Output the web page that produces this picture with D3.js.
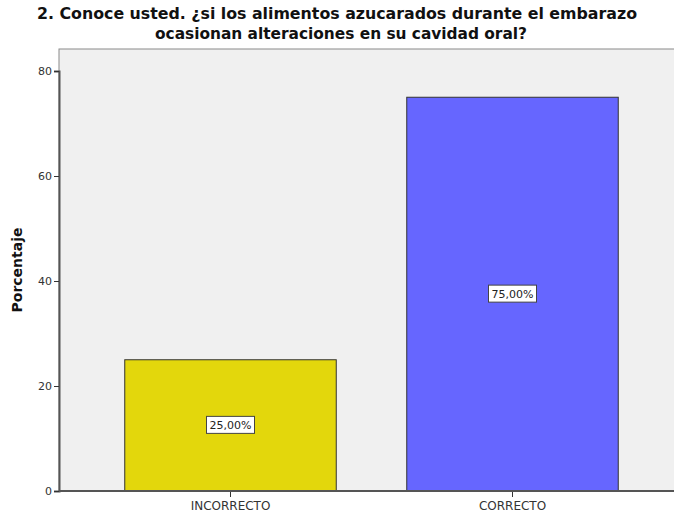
<!DOCTYPE html>
<html>
<head>
<meta charset="utf-8">
<script src="https://cdn.jsdelivr.net/npm/d3@7"></script>
<style>
  body { margin: 0; background: #fff; }
  svg { display: block; }
  .tick text { font-family: "DejaVu Sans", sans-serif; font-size: 11px; fill: #333; }
  .xaxis .tick text { font-size: 12px; }
</style>
</head>
<body>
<div id="chart"></div>
<script>
// data
var categories = ["INCORRECTO", "CORRECTO"];
var values = [25, 75];
var barColors = ["#e3d70c", "#6666ff"];
var yTicks = [0, 20, 40, 60, 80];
var titleLines = ["2. Conoce usted. ¿si los alimentos azucarados durante el embarazo",
                  "ocasionan alteraciones en su cavidad oral?"];

var width = 674, height = 514;
var plot = {left: 59, right: 674, top: 49, bottom: 491};

var svg = d3.select("#chart").append("svg").attr("width", width).attr("height", height);

// plot background
svg.append("rect")
  .attr("x", plot.left).attr("y", plot.top)
  .attr("width", plot.right - plot.left + 2).attr("height", plot.bottom - plot.top)
  .attr("fill", "#f0f0f0").attr("stroke", "#8a8a8a").attr("stroke-width", 1);

var x = d3.scaleBand().domain(categories).range([89.5, 653.5]).paddingInner(0.25).paddingOuter(0.125);
var y = d3.scaleLinear().domain([0, 80]).range([plot.bottom, 71]);

// bars
svg.selectAll("rect.bar").data(categories).enter().append("rect")
  .attr("class", "bar")
  .attr("x", function(d){ return x(d); })
  .attr("y", function(d, i){ return y(values[i]); })
  .attr("width", x.bandwidth())
  .attr("height", function(d, i){ return y(0) - y(values[i]); })
  .attr("fill", function(d, i){ return barColors[i]; })
  .attr("stroke", "#333").attr("stroke-width", 1);

// value labels in boxes
var labels = svg.selectAll("g.vlabel").data(categories).enter().append("g")
  .attr("class", "vlabel")
  .attr("transform", function(d, i){
    return "translate(" + (x(d) + x.bandwidth() / 2) + "," + ((y(values[i]) + y(0)) / 2) + ")";
  });
labels.append("rect")
  .attr("x", -24).attr("y", -9).attr("width", 48).attr("height", 17)
  .attr("fill", "#fff").attr("stroke", "#444").attr("stroke-width", 1);
labels.append("text")
  .attr("text-anchor", "middle").attr("y", 4)
  .style("font-family", "DejaVu Sans, sans-serif").style("font-size", "11px").style("fill", "#222")
  .text(function(d, i){ return values[i].toFixed(2).replace(".", ",") + "%"; });

// axes
var yAxis = d3.axisLeft(y).tickValues(yTicks).tickSize(5).tickPadding(2);
var gy = svg.append("g").attr("transform", "translate(" + plot.left + ",0)").call(yAxis);
gy.select(".domain").attr("stroke", "#555").attr("stroke-width", 2);
gy.selectAll(".tick line").attr("stroke", "#333");

var xAxis = d3.axisBottom(x).tickSize(6).tickPadding(4);
var gx = svg.append("g").attr("class", "xaxis").attr("transform", "translate(0," + plot.bottom + ")").call(xAxis);
gx.select(".domain").remove();
gx.selectAll(".tick line").attr("stroke", "#333");
svg.append("line")
  .attr("x1", plot.left).attr("x2", plot.right)
  .attr("y1", plot.bottom).attr("y2", plot.bottom)
  .attr("stroke", "#555").attr("stroke-width", 2);

// y label
svg.append("text")
  .attr("transform", "translate(22,270) rotate(-90)")
  .attr("text-anchor", "middle")
  .style("font-family", "DejaVu Sans, sans-serif").style("font-weight", "bold").style("font-size", "14px")
  .style("fill", "#111")
  .text("Porcentaje");

// title (two lines, as in the original)
svg.selectAll("text.title").data(titleLines).enter().append("text")
  .attr("class", "title")
  .attr("x", function(d, i){ return i === 0 ? 37 : 155; })
  .attr("y", function(d, i){ return i === 0 ? 19 : 39; })
  .attr("textLength", function(d, i){ return i === 0 ? 600 : 372; })
  .attr("lengthAdjust", "spacingAndGlyphs")
  .style("font-family", "Liberation Sans Narrow, DejaVu Sans Condensed, sans-serif")
  .style("font-weight", "bold").style("font-size", "16px").style("fill", "#111")
  .text(function(d){ return d; });
</script>
</body>
</html>
